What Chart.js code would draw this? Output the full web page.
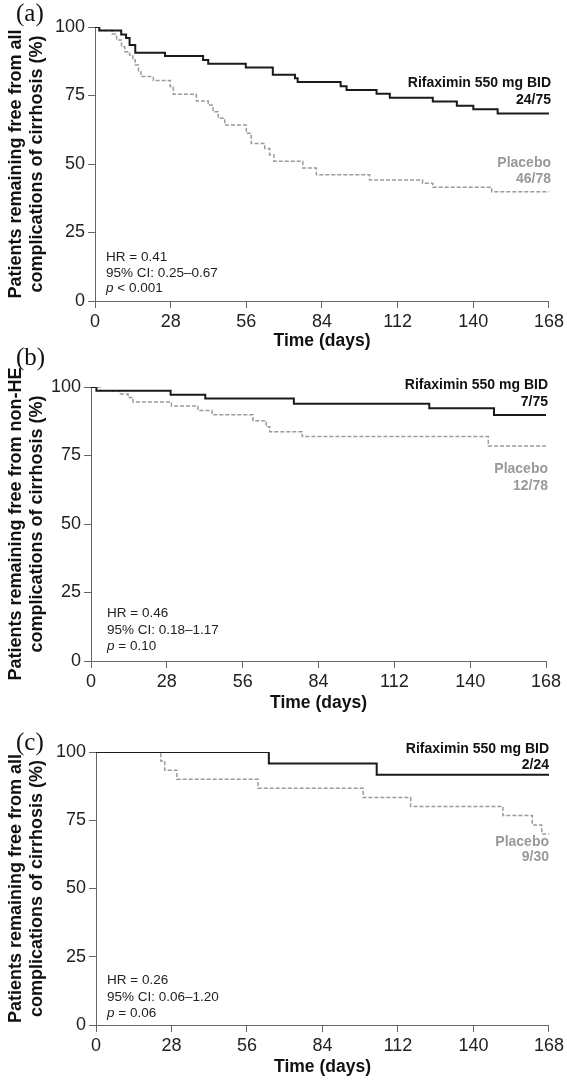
<!DOCTYPE html>
<html>
<head>
<meta charset="utf-8">
<script src="https://cdn.jsdelivr.net/npm/chart.js@4.4.0/dist/chart.umd.min.js"></script>
<style>
  html, body { margin: 0; padding: 0; background: #fff; }
  body { width: 567px; height: 1085px; position: relative; overflow: hidden; }
  canvas { position: absolute; left: 0; }
</style>
</head>
<body>
<canvas id="chartA" width="567" height="362" style="top:0px"></canvas>
<canvas id="chartB" width="567" height="385" style="top:340px"></canvas>
<canvas id="chartC" width="567" height="363" style="top:722px"></canvas>
<script>
const xTicks = [0, 28, 56, 84, 112, 140, 168];
const yTicks = [0, 25, 50, 75, 100];

// (a) all complications of cirrhosis
const rifaDaysA = [0, 1.6, 9.7, 11.5, 12.8, 14.9, 25.9, 40, 41.9, 55.8, 65.8, 74, 75, 90.9, 93.1, 104.2, 109.1, 125, 133.9, 140, 149, 168];
const rifaSurvA = [100, 98.7, 97.3, 96.0, 93.4, 90.6, 89.4, 88.0, 86.6, 85.2, 82.6, 81.3, 79.9, 78.4, 77.0, 75.6, 74.2, 72.8, 71.3, 70.0, 68.4, 68.4];
const placDaysA = [0, 1.6, 6.3, 8.0, 9.8, 11.0, 12.8, 14.0, 14.9, 16.1, 17.0, 21.6, 27.8, 29.0, 37.5, 41.9, 43.7, 45.6, 48.0, 56.0, 57.8, 62.8, 64.6, 66.2, 76.9, 81.9, 101.6, 121.2, 125.0, 146.8, 168];
const placSurvA = [100, 98.7, 97.4, 95.3, 92.8, 91.0, 89.8, 88.0, 86.1, 83.7, 81.9, 80.5, 78.3, 75.5, 73.0, 71.5, 69.1, 66.7, 64.2, 61.2, 57.5, 55.7, 53.3, 51.0, 48.5, 46.1, 44.2, 43.0, 41.5, 39.9, 39.9];

// (b) non-HE complications of cirrhosis
const rifaDaysB = [0, 2.0, 29.4, 42.2, 74.9, 124.9, 148.8, 168];
const rifaSurvB = [100, 98.6, 97.2, 95.8, 93.9, 92.2, 89.8, 89.8];
const placDaysB = [0, 3.5, 10.6, 13.7, 15.5, 29.7, 39.5, 44.7, 59.8, 64.7, 66.0, 78.0, 146.7, 168];
const placSurvB = [100, 98.6, 97.4, 96.2, 94.5, 93.1, 91.4, 89.9, 87.7, 85.5, 83.7, 81.9, 78.5, 78.5];

// (c) all complications, subgroup
const rifaDaysC = [0, 64.1, 104.1, 168];
const rifaSurvC = [100, 95.8, 91.7, 91.7];
const placDaysC = [0, 24.0, 25.5, 30.0, 60.1, 99.1, 116.7, 150.9, 161.8, 165.3, 168];
const placSurvC = [100, 96.7, 93.3, 90.0, 86.7, 83.3, 80.0, 76.7, 73.3, 70.0, 70.0];

const FONT = '"Liberation Sans", Arial, Helvetica, sans-serif';
const axisColor = '#666';

function pts(days, surv) {
  return days.map((d, i) => ({ x: d, y: surv[i] }));
}

function textPlugin(cfg) {
  return {
    id: 'panelText',
    afterDraw(chart) {
      const ctx = chart.ctx;
      const off = cfg.top;
      ctx.save();
      ctx.textBaseline = 'middle';

      ctx.textAlign = 'left';
      ctx.fillStyle = '#111';
      ctx.font = '25px "Liberation Serif", "Times New Roman", serif';
      ctx.fillText(cfg.panel, 16, cfg.panelY - off);

      ctx.font = '13.5px ' + FONT;
      ctx.fillStyle = '#222';
      ctx.fillText(cfg.stats[0], cfg.statsX, cfg.statsY[0] - off);
      ctx.fillText(cfg.stats[1], cfg.statsX, cfg.statsY[1] - off);
      ctx.font = 'italic 13.5px ' + FONT;
      ctx.fillText('p', cfg.statsX, cfg.statsY[2] - off);
      const pw = ctx.measureText('p').width;
      ctx.font = '13.5px ' + FONT;
      ctx.fillText(cfg.stats[2], cfg.statsX + pw, cfg.statsY[2] - off);

      ctx.textAlign = 'right';
      ctx.font = 'bold 14px ' + FONT;
      ctx.fillStyle = '#111';
      ctx.fillText('Rifaximin 550 mg BID', cfg.legendX, cfg.legendY[0] - off);
      ctx.fillText(cfg.rifaN, cfg.legendX, cfg.legendY[1] - off);
      ctx.fillStyle = '#999';
      ctx.fillText('Placebo', cfg.legendX, cfg.legendY[2] - off);
      ctx.fillText(cfg.placN, cfg.legendX, cfg.legendY[3] - off);
      ctx.restore();
    }
  };
}

function makeChart(id, cfg) {
  new Chart(document.getElementById(id), {
    type: 'line',
    data: {
      datasets: [
        {
          label: 'Rifaximin 550 mg BID',
          data: pts(cfg.rifaDays, cfg.rifaSurv),
          borderColor: '#1a1a1a',
          borderWidth: 2,
          stepped: 'before',
          pointRadius: 0,
          fill: false
        },
        {
          label: 'Placebo',
          data: pts(cfg.placDays, cfg.placSurv),
          borderColor: '#9a9a9a',
          borderWidth: 1.5,
          borderDash: [4, 2],
          stepped: 'before',
          pointRadius: 0,
          fill: false
        }
      ]
    },
    options: {
      responsive: false,
      animation: false,
      events: [],
      layout: { padding: { top: cfg.padTop, right: cfg.padRight, bottom: 0, left: 0 } },
      plugins: { legend: { display: false }, tooltip: { enabled: false } },
      scales: {
        x: {
          type: 'linear',
          min: 0,
          max: 168,
          afterBuildTicks: s => { s.ticks = xTicks.map(v => ({ value: v })); },
          afterFit: s => { s.height = cfg.xHeight; },
          grid: { drawOnChartArea: false, tickLength: 7, color: axisColor },
          border: { color: axisColor, width: 1 },
          ticks: { padding: 3, autoSkip: false, maxRotation: 0, color: '#222', font: { size: 18, family: FONT } },
          title: {
            display: true,
            text: 'Time (days)',
            color: '#111',
            font: { size: 17.5, weight: 'bold', family: FONT },
            padding: { top: 0, bottom: cfg.xTitlePad }
          }
        },
        y: {
          min: 0,
          max: 100,
          afterBuildTicks: s => { s.ticks = yTicks.map(v => ({ value: v })); },
          afterFit: s => { s.width = cfg.yWidth; },
          grid: { drawOnChartArea: false, tickLength: 7, color: axisColor },
          border: { color: axisColor, width: 1 },
          ticks: { padding: 3, color: '#222', font: { size: 18, family: FONT } },
          title: {
            display: true,
            text: cfg.yTitle,
            color: '#111',
            font: { size: 18, weight: 'bold', family: FONT, lineHeight: 1.15 },
            padding: { top: 6, bottom: 0 }
          }
        }
      }
    },
    plugins: [textPlugin(cfg)]
  });
}

makeChart('chartA', {
  top: 0, padTop: 27, padRight: 16, xHeight: 61, yWidth: 95, xTitlePad: 10,
  rifaDays: rifaDaysA, rifaSurv: rifaSurvA, placDays: placDaysA, placSurv: placSurvA,
  yTitle: ['Patients remaining free from all', 'complications of cirrhosis (%)'],
  panel: '(a)', panelY: 14,
  stats: ['HR = 0.41', '95% CI: 0.25\u20130.67', ' < 0.001'], statsX: 106, statsY: [257, 273, 288],
  legendX: 551, legendY: [83, 100, 163, 179], rifaN: '24/75', placN: '46/78'
});

makeChart('chartB', {
  top: 340, padTop: 47, padRight: 21, xHeight: 64, yWidth: 91, xTitlePad: 11,
  rifaDays: rifaDaysB, rifaSurv: rifaSurvB, placDays: placDaysB, placSurv: placSurvB,
  yTitle: ['Patients remaining free from non-HE', 'complications of cirrhosis (%)'],
  panel: '(b)', panelY: 358,
  stats: ['HR = 0.46', '95% CI: 0.18\u20131.17', ' = 0.10'], statsX: 107, statsY: [613, 630, 646],
  legendX: 548, legendY: [385, 402, 469, 486], rifaN: '7/75', placN: '12/78'
});

makeChart('chartC', {
  top: 722, padTop: 30, padRight: 16, xHeight: 60, yWidth: 96, xTitlePad: 7,
  rifaDays: rifaDaysC, rifaSurv: rifaSurvC, placDays: placDaysC, placSurv: placSurvC,
  yTitle: ['Patients remaining free from all', 'complications of cirrhosis (%)'],
  panel: '(c)', panelY: 743,
  stats: ['HR = 0.26', '95% CI: 0.06\u20131.20', ' = 0.06'], statsX: 107, statsY: [980, 997, 1013],
  legendX: 549, legendY: [749, 765, 842, 857], rifaN: '2/24', placN: '9/30'
});
</script>
</body>
</html>
